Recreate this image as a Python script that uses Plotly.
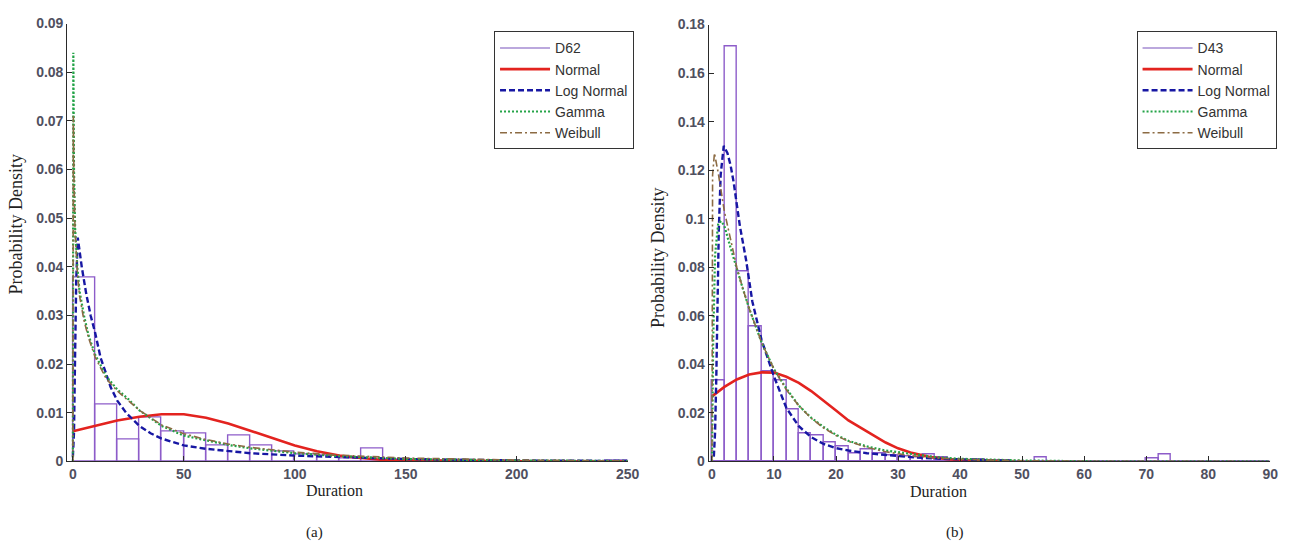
import plotly.graph_objects as go

W, H = 1303, 552

# ---------------- data: panel (a) D62 ----------------
a_bin_left = [0, 10, 20, 30, 40, 50, 60, 70, 80, 90, 100, 110, 120, 130, 140,
              150, 160, 170, 180, 190, 200, 210, 220, 230, 240]
a_bin_width = 10
a_hist = [0.0377, 0.0117, 0.0045, 0.0091, 0.0062, 0.0057, 0.0033, 0.0054, 0.0033,
          0.0021, 0.0015, 0.0012, 0.0007, 0.0027, 0.0003, 0.0002, 0.0001, 0.0001,
          0.0, 0.0001, 0.0, 0.0, 0.0, 0.0, 0.0001]

a_norm_x = [0, 10, 20, 30, 40, 50, 60, 70, 80, 90, 100, 110, 120, 130, 140, 150, 175, 200, 250]
a_norm_y = [0.0062, 0.0073, 0.0084, 0.0092, 0.0097, 0.0097, 0.0090, 0.0078, 0.0063, 0.0047,
            0.0033, 0.0021, 0.0012, 0.0007, 0.0003, 0.0002, 0.0001, 0.00005, 0.0]

a_logn_x = [0, 0.5, 1.0, 1.5, 2.2, 3, 4, 6, 8, 10, 12.5, 15, 17, 20, 24, 30, 35, 40, 50,
            60, 70, 80, 100, 120, 150, 200, 250]
a_logn_y = [0.001, 0.006, 0.022, 0.037, 0.046, 0.043, 0.040, 0.0345, 0.030, 0.0265, 0.0213,
            0.018, 0.0153, 0.0125, 0.010, 0.0073, 0.0058, 0.0047, 0.0033, 0.0026, 0.0021,
            0.0017, 0.0012, 0.0009, 0.0005, 0.0002, 0.0001]

a_gamma_x = [0, 0.2, 0.5, 1, 2, 3, 5, 7, 10, 15, 20, 25, 30, 40, 50, 60, 70, 80, 100, 120,
             150, 200, 250]
a_gamma_y = [0.0, 0.084, 0.060, 0.048, 0.040, 0.035, 0.030, 0.026, 0.022, 0.0175, 0.0148,
             0.0128, 0.0105, 0.0073, 0.0053, 0.0043, 0.0034, 0.0027, 0.0017, 0.0011,
             0.0005, 0.0002, 0.0001]

a_weib_x = [0, 0.2, 0.5, 1, 2, 3, 5, 7, 10, 15, 20, 25, 30, 40, 50, 60, 70, 80, 100, 120,
            150, 200, 250]
a_weib_y = [0.0, 0.071, 0.058, 0.047, 0.039, 0.034, 0.029, 0.0255, 0.0215, 0.017, 0.0145,
            0.0125, 0.0105, 0.0075, 0.0057, 0.0045, 0.0036, 0.0029, 0.0019, 0.0013,
            0.0007, 0.0003, 0.0001]

# ---------------- data: panel (b) D43 ----------------
b_bin_left = [0, 2, 4, 6, 8, 10, 12, 14, 16, 18, 20, 22, 24, 26, 28, 30, 32, 34, 36, 38,
              40, 42, 44, 46, 48, 50, 52, 54, 56, 58, 60, 62, 64, 66, 68, 70, 72, 74, 76,
              78, 80, 82, 84, 86, 88]
b_bin_width = 2
b_hist = [0.0333, 0.1708, 0.0784, 0.0555, 0.037, 0.0333, 0.0213, 0.0117, 0.0107, 0.008,
          0.006, 0.0033, 0.005, 0.0033, 0.0024, 0.0022, 0.0015, 0.003, 0.0015, 0.001,
          0.0005, 0.0007, 0.0005, 0.0003, 0.0, 0.0, 0.0018, 0.0, 0.0, 0.0, 0.0, 0.0, 0.0,
          0.0, 0.0, 0.0012, 0.003, 0.0, 0.0, 0.0, 0.0, 0.0, 0.0, 0.0, 0.0]

b_norm_x = [0, 2, 4, 6, 8, 10, 12, 14, 16, 18, 20, 22, 24, 26, 28, 30, 32, 35, 38, 42, 48]
b_norm_y = [0.0268, 0.0307, 0.0338, 0.0358, 0.0367, 0.0366, 0.0349, 0.0324, 0.029, 0.0251,
            0.0210, 0.0169, 0.0138, 0.0108, 0.0078, 0.0054, 0.0037, 0.0019, 0.0009,
            0.0003, 0.0001]

b_logn_x = [0.3, 0.5, 0.7, 0.9, 1.1, 1.4, 1.9, 2.5, 3, 3.5, 4.5, 5.5, 6.5, 8, 10, 12, 14,
            16, 18, 20, 22, 25, 28, 32, 36, 40, 45, 48]
b_logn_y = [0.002, 0.012, 0.035, 0.065, 0.095, 0.118, 0.130, 0.127, 0.122, 0.115, 0.097,
            0.083, 0.066, 0.050, 0.035, 0.022, 0.0145, 0.010, 0.0072, 0.0055, 0.0045,
            0.0034, 0.0026, 0.0018, 0.0012, 0.0008, 0.0005, 0.0004]

b_gamma_x = [0, 0.2, 0.5, 1.0, 1.5, 2, 3, 4, 5, 6, 7, 8, 10, 12, 14, 16, 18, 20, 22, 25,
             28, 32, 36, 40, 50, 60, 70, 90]
b_gamma_y = [0.0, 0.05, 0.085, 0.098, 0.099, 0.097, 0.088, 0.079, 0.071, 0.063, 0.056,
             0.049, 0.038, 0.030, 0.023, 0.018, 0.0142, 0.011, 0.0085, 0.0062, 0.0045,
             0.003, 0.0018, 0.0011, 0.0004, 0.0001, 0.0, 0.0]

b_weib_x = [0, 0.1, 0.4, 1, 2, 3, 4, 5, 6, 8, 10, 12, 14, 16, 18, 20, 22, 25, 28, 32, 36,
            40, 50, 60, 70, 90]
b_weib_y = [0.0, 0.118, 0.127, 0.119, 0.103, 0.091, 0.080, 0.071, 0.063, 0.049, 0.038,
            0.0295, 0.023, 0.0178, 0.0138, 0.0107, 0.0083, 0.0058, 0.004, 0.0024, 0.0014,
            0.0009, 0.0003, 0.0001, 0.0, 0.0]

# tick labels
a_xticks = [0, 50, 100, 150, 200, 250]
a_yticks = [0, 0.01, 0.02, 0.03, 0.04, 0.05, 0.06, 0.07, 0.08, 0.09]
a_ytext = ["0", "0.01", "0.02", "0.03", "0.04", "0.05", "0.06", "0.07", "0.08", "0.09"]
b_xticks = [0, 10, 20, 30, 40, 50, 60, 70, 80, 90]
b_yticks = [0, 0.02, 0.04, 0.06, 0.08, 0.1, 0.12, 0.14, 0.16, 0.18]
b_ytext = ["0", "0.02", "0.04", "0.06", "0.08", "0.1", "0.12", "0.14", "0.16", "0.18"]

series_names = ["Normal", "Log Normal", "Gamma", "Weibull"]

# ---------------- styles ----------------
PURPLE = "#8d5cc9"
RED = "#e3231f"
BLUE = "#1717a3"
GREEN = "#23a347"
BROWN = "#8c6b43"
TICK_COL = "#50505f"
AXIS_COL = "#2a2a2a"

styles = [
    dict(color=RED, width=2.6, dash="solid"),
    dict(color=BLUE, width=2.4, dash="6px,3px"),
    dict(color=GREEN, width=2.2, dash="2px,2px"),
    dict(color=BROWN, width=1.6, dash="7px,3px,2px,3px"),
]

fig = go.Figure()


def add_panel(xa, ya, leg, hist_name, bins, bw, hist, curves):
    fig.add_trace(go.Bar(
        x=bins, y=hist, width=bw, offset=0, xaxis=xa, yaxis=ya,
        marker=dict(color="rgba(0,0,0,0)", line=dict(color=PURPLE, width=1.4)),
        showlegend=False, hoverinfo="skip"))
    # legend entry for histogram drawn as a line (as in the original)
    fig.add_trace(go.Scatter(
        x=[None], y=[None], mode="lines", name=hist_name, xaxis=xa, yaxis=ya,
        line=dict(color="#a58bd2", width=1.5), legend=leg))
    for name, (cx, cy), st in zip(series_names, curves, styles):
        fig.add_trace(go.Scatter(
            x=cx, y=cy, mode="lines", name=name, xaxis=xa, yaxis=ya,
            line=st, legend=leg))


add_panel("x", "y", "legend", "D62", a_bin_left, a_bin_width, a_hist,
          [(a_norm_x, a_norm_y), (a_logn_x, a_logn_y),
           (a_gamma_x, a_gamma_y), (a_weib_x, a_weib_y)])
add_panel("x2", "y2", "legend2", "D43", b_bin_left, b_bin_width, b_hist,
          [(b_norm_x, b_norm_y), (b_logn_x, b_logn_y),
           (b_gamma_x, b_gamma_y), (b_weib_x, b_weib_y)])

axis_common = dict(
    showgrid=False, zeroline=False, showline=True, linecolor=AXIS_COL, linewidth=1.3,
    ticks="inside", ticklen=5, tickwidth=1.2, tickcolor=AXIS_COL, mirror=False,
    tickfont=dict(family="Liberation Sans, Arial", size=14, color=TICK_COL, weight="bold"),
)

legend_common = dict(
    xanchor="left", yanchor="top", bgcolor="white", bordercolor="#333", borderwidth=1,
    font=dict(family="Liberation Sans, Arial", size=14, color="#333"),
    tracegroupgap=0, itemwidth=50,
)

fig.update_layout(
    width=W, height=H, margin=dict(l=0, r=0, t=0, b=0),
    paper_bgcolor="white", plot_bgcolor="white", bargap=0,
    xaxis=dict(domain=[67 / W, 633 / W], range=[-2.5, 250], anchor="y",
               tickvals=a_xticks, **axis_common),
    yaxis=dict(domain=[85 / H, 536 / H], range=[0, 0.09], anchor="x",
               tickvals=a_yticks, ticktext=a_ytext, **axis_common),
    xaxis2=dict(domain=[715 / W, 1282 / W], range=[-0.5, 90], anchor="y2",
                tickvals=b_xticks, **axis_common),
    yaxis2=dict(domain=[85 / H, 535 / H], range=[0, 0.18], anchor="x2",
                tickvals=b_yticks, ticktext=b_ytext, **axis_common),
    legend=dict(x=498 / W, y=1 - 24 / H, **legend_common),
    legend2=dict(x=1147 / W, y=1 - 24 / H, **legend_common),
)

serif = dict(family="Liberation Serif, Times New Roman", size=18, color="#222")
ann = [
    dict(text="Probability Density", x=15 / W, y=1 - 222 / H, textangle=-90, font=serif),
    dict(text="Probability Density", x=663 / W, y=1 - 257 / H, textangle=-90, font=serif),
    dict(text="Duration", x=337 / W, y=1 - 497 / H, font=dict(serif, size=16)),
    dict(text="Duration", x=947 / W, y=1 - 498 / H, font=dict(serif, size=16)),
    dict(text="(a)", x=317 / W, y=1 - 540 / H, font=dict(serif, size=15)),
    dict(text="(b)", x=964 / W, y=1 - 540 / H, font=dict(serif, size=15)),
]
for a in ann:
    a.update(xref="paper", yref="paper", showarrow=False, xanchor="center", yanchor="middle")
    fig.add_annotation(**a)

fig.write_html("out.html")
